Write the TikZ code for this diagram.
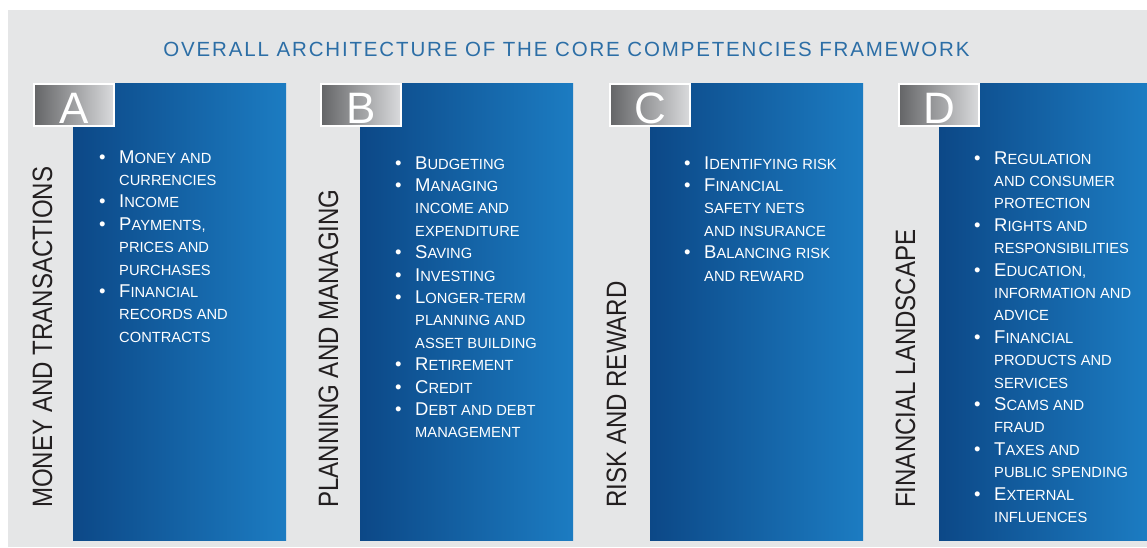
\documentclass[tikz,border=0pt]{standalone}
\usepackage{fontspec}
\setmainfont{Liberation Sans}
\newfontfamily\sidefont[FakeStretch=0.86]{Liberation Sans}
\newfontfamily\titlefont[LetterSpace=9]{Liberation Sans}
\definecolor{panelleft}{RGB}{12,72,135}
\definecolor{panelright}{RGB}{28,124,194}
\definecolor{boxleft}{RGB}{100,101,103}
\definecolor{boxright}{RGB}{218,219,221}
\definecolor{backgray}{RGB}{229,230,231}
\definecolor{titleblue}{RGB}{44,110,166}
\definecolor{sidegray}{RGB}{35,31,32}
\newcommand{\firstcap}[1]{{\fontsize{18.5}{22.4}\selectfont #1}}
\newcommand{\itm}{\makebox[20pt][l]{\firstcap{\textbullet}}}
\newcommand{\cnt}{\hspace*{20pt}}

\begin{document}
\begin{tikzpicture}[x=1pt,y=-1pt,
    panel/.style={anchor=north west, minimum width=213pt, minimum height=457pt, inner sep=0, left color=panelleft, right color=panelright},
    letterbox/.style={minimum width=80pt, minimum height=42pt, inner sep=0, draw=white, line width=2pt, left color=boxleft, right color=boxright, text=white, text height=36pt, text depth=0pt, font=\fontsize{44}{44}\selectfont},
    sidelabel/.style={rotate=90, anchor=base west, inner sep=0, text=sidegray, font=\sidefont\fontsize{28}{28}\selectfont},
    items/.style={anchor=base west, inner sep=0, text=white, font=\fontsize{14.7}{22.4}\selectfont}]
  \useasboundingbox (0,0) rectangle (1147,547);
  \fill[backgray] (8,10) rectangle (1147,547);

  \node[anchor=base, inner sep=0, text=titleblue, font=\titlefont\fontsize{20.5}{20.5}\selectfont] (title) at (566.5,56) {OVERALL ARCHITECTURE OF THE CORE COMPETENCIES FRAMEWORK};

  \node[panel] (panelA) at (73,83) {};
  \node[panel] (panelB) at (360,83) {};
  \node[panel] (panelC) at (650,83) {};
  \node[panel, minimum width=208pt] (panelD) at (939,83) {};

  \node[letterbox] (boxA) at (74,105) {A};
  \node[letterbox] (boxB) at (361,105) {B};
  \node[letterbox] (boxC) at (650,105) {C};
  \node[letterbox] (boxD) at (939,105) {D};

  \node[sidelabel] (sideA) at (52,508) {MONEY AND TRANSACTIONS};
  \node[sidelabel] (sideB) at (338,508) {PLANNING AND MANAGING};
  \node[sidelabel] (sideC) at (626,508) {RISK AND REWARD};
  \node[sidelabel] (sideD) at (915,508) {FINANCIAL LANDSCAPE};

  \node[items] (listA) at (99,163) {\begin{tabular}[t]{@{}l@{}}
    \itm\firstcap{M}ONEY AND\\ \cnt CURRENCIES\\
    \itm\firstcap{I}NCOME\\
    \itm\firstcap{P}AYMENTS,\\ \cnt PRICES AND\\ \cnt PURCHASES\\
    \itm\firstcap{F}INANCIAL\\ \cnt RECORDS AND\\ \cnt CONTRACTS
  \end{tabular}};
  \node[items] (listB) at (395,169) {\begin{tabular}[t]{@{}l@{}}
    \itm\firstcap{B}UDGETING\\
    \itm\firstcap{M}ANAGING\\ \cnt INCOME AND\\ \cnt EXPENDITURE\\
    \itm\firstcap{S}AVING\\
    \itm\firstcap{I}NVESTING\\
    \itm\firstcap{L}ONGER-TERM\\ \cnt PLANNING AND\\ \cnt ASSET BUILDING\\
    \itm\firstcap{R}ETIREMENT\\
    \itm\firstcap{C}REDIT\\
    \itm\firstcap{D}EBT AND DEBT\\ \cnt MANAGEMENT
  \end{tabular}};
  \node[items] (listC) at (684,169) {\begin{tabular}[t]{@{}l@{}}
    \itm\firstcap{I}DENTIFYING RISK\\
    \itm\firstcap{F}INANCIAL\\ \cnt SAFETY NETS\\ \cnt AND INSURANCE\\
    \itm\firstcap{B}ALANCING RISK\\ \cnt AND REWARD
  \end{tabular}};
  \node[items] (listD) at (974,164) {\begin{tabular}[t]{@{}l@{}}
    \itm\firstcap{R}EGULATION\\ \cnt AND CONSUMER\\ \cnt PROTECTION\\
    \itm\firstcap{R}IGHTS AND\\ \cnt RESPONSIBILITIES\\
    \itm\firstcap{E}DUCATION,\\ \cnt INFORMATION AND\\ \cnt ADVICE\\
    \itm\firstcap{F}INANCIAL\\ \cnt PRODUCTS AND\\ \cnt SERVICES\\
    \itm\firstcap{S}CAMS AND\\ \cnt FRAUD\\
    \itm\firstcap{T}AXES AND\\ \cnt PUBLIC SPENDING\\
    \itm\firstcap{E}XTERNAL\\ \cnt INFLUENCES
  \end{tabular}};
\end{tikzpicture}
\end{document}
